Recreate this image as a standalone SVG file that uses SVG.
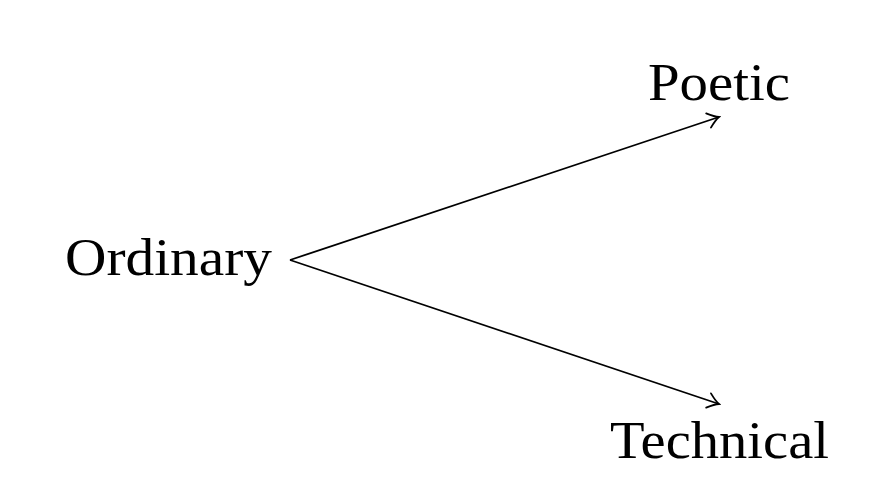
<svg xmlns="http://www.w3.org/2000/svg" width="892" height="502" viewBox="0 0 892 502">
<style>
.lbl{font-family:"Liberation Serif","DejaVu Serif",serif;font-size:52px;fill:#000}
.edge{stroke:#000;stroke-width:1.8;fill:none}
</style>
<defs>
<marker id="to" viewBox="-14 -9 16 18" refX="0" refY="0" markerWidth="16" markerHeight="18" markerUnits="userSpaceOnUse" orient="auto">
<path d="M-11,-7.5 Q-4,-1.5 0,0 Q-4,1.5 -11,7.5" fill="none" stroke="#000" stroke-width="1.8" stroke-linecap="round"/>
</marker>
</defs>
<rect width="892" height="502" fill="#fff"/>
<g id="connectors">
<line class="edge" x1="290" y1="260" x2="719" y2="117" marker-end="url(#to)"/>
<line class="edge" x1="290" y1="260" x2="719" y2="404" marker-end="url(#to)"/>
</g>
<g id="ordinary"><text class="lbl" x="65" y="275" textLength="207" lengthAdjust="spacingAndGlyphs">Ordinary</text></g>
<g id="poetic"><text class="lbl" x="648" y="100" textLength="142" lengthAdjust="spacingAndGlyphs">Poetic</text></g>
<g id="technical"><text class="lbl" x="610" y="458" textLength="219" lengthAdjust="spacingAndGlyphs">Technical</text></g>
</svg>
